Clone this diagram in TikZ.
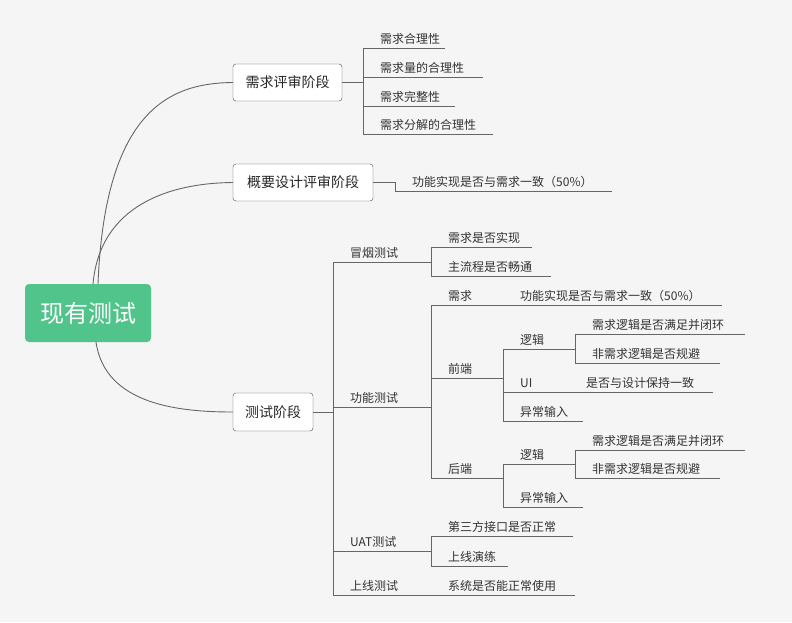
\documentclass[tikz,border=0pt]{standalone}
\usepackage{fontspec}
\setmainfont{Noto Sans CJK SC}
\begin{document}
\begin{tikzpicture}[x=1pt,y=-1pt,
  ln/.style={draw=black!60,line width=0.9pt},
  lf/.style={anchor=base west,inner sep=0pt,font=\fontsize{12}{12}\selectfont,text=black!80},
  bx/.style={draw=black!70,rounded corners=3pt,fill=white,font=\fontsize{14}{14}\selectfont,text=black!85,inner sep=0pt}]
\fill[black!4] (0,0) rectangle (792,622);
\useasboundingbox (0,0) rectangle (792,622);
\node[fill={rgb,255:red,80;green,196;blue,138},rounded corners=4pt,minimum width=126pt,minimum height=58pt,text=white,font=\fontsize{24}{24}\selectfont] (root) at (88,313) {现有测试};
\node[bx,minimum width=109pt,minimum height=37pt] (b1) at (287.5,82.5) {需求评审阶段};
\node[bx,minimum width=140pt,minimum height=37pt] (b2) at (303,182.5) {概要设计评审阶段};
\node[bx,minimum width=80pt,minimum height=38pt] (b3) at (273,412) {测试阶段};
\draw[ln] (98,284) .. controls (105,110) and (170,83) .. (b1.west);
\draw[ln] (93,284) .. controls (100,205) and (170,183) .. (b2.west);
\draw[ln] (96,342) .. controls (105,405) and (180,412) .. (b3.west);
% helper: underline item
\newcommand\itm[5]{\draw[ln] (#1,#3) -- (#2,#3); \node[lf] (#5) at (#1+17,#3-4.5) {#4};}
% level 1 group
\draw[ln] (b1.east) -- (363,82.5);
\draw[ln] (363,48) -- (363,134);
\itm{363}{445}{48}{需求合理性}{a1}
\itm{363}{483}{77}{需求量的合理性}{a2}
\itm{363}{455}{106}{需求完整性}{a3}
\itm{363}{493}{134}{需求分解的合理性}{a4}
\draw[ln] (b2.east) -- (395,182.5) -- (395,191);
\itm{395}{612}{191}{功能实现是否与需求一致（50\%）}{c1}
% test stage
\draw[ln] (b3.east) -- (333,412);
\draw[ln] (333,262) -- (333,595);
\itm{333}{431}{262}{冒烟测试}{t1}
\itm{333}{431}{407}{功能测试}{t2}
\itm{333}{431}{551}{UAT测试}{t3}
\itm{333}{431}{595}{上线测试}{t4}
\draw[ln] (431,247) -- (431,276);
\itm{431}{532}{247}{需求是否实现}{s1}
\itm{431}{551}{276}{主流程是否畅通}{s2}
\draw[ln] (431,305) -- (431,478);
\itm{431}{503}{305}{需求}{f1}
\itm{503}{722}{305}{功能实现是否与需求一致（50\%）}{f1a}
\itm{431}{503}{378}{前端}{f2}
\itm{431}{503}{478}{后端}{f3}
\draw[ln] (503,349) -- (503,421);
\itm{503}{575}{349}{逻辑}{q1}
\itm{503}{575}{392}{UI}{q2}
\itm{503}{583}{421}{异常输入}{q3}
\node[lf] at (586,387.5) {是否与设计保持一致};
\draw[ln] (575,392) -- (713,392);
\draw[ln] (575,334) -- (575,363);
\itm{575}{745}{334}{需求逻辑是否满足并闭环}{q1a}
\itm{575}{720}{363}{非需求逻辑是否规避}{q1b}
\draw[ln] (503,464) -- (503,507);
\itm{503}{575}{464}{逻辑}{h1}
\itm{503}{583}{507}{异常输入}{h2}
\draw[ln] (575,450) -- (575,478);
\itm{575}{745}{450}{需求逻辑是否满足并闭环}{h1a}
\itm{575}{720}{478}{非需求逻辑是否规避}{h1b}
\draw[ln] (431,536) -- (431,566);
\itm{431}{573}{536}{第三方接口是否正常}{u1}
\itm{431}{508}{566}{上线演练}{u2}
\itm{431}{575}{595}{系统是否能正常使用}{o1}
\end{tikzpicture}
\end{document}
